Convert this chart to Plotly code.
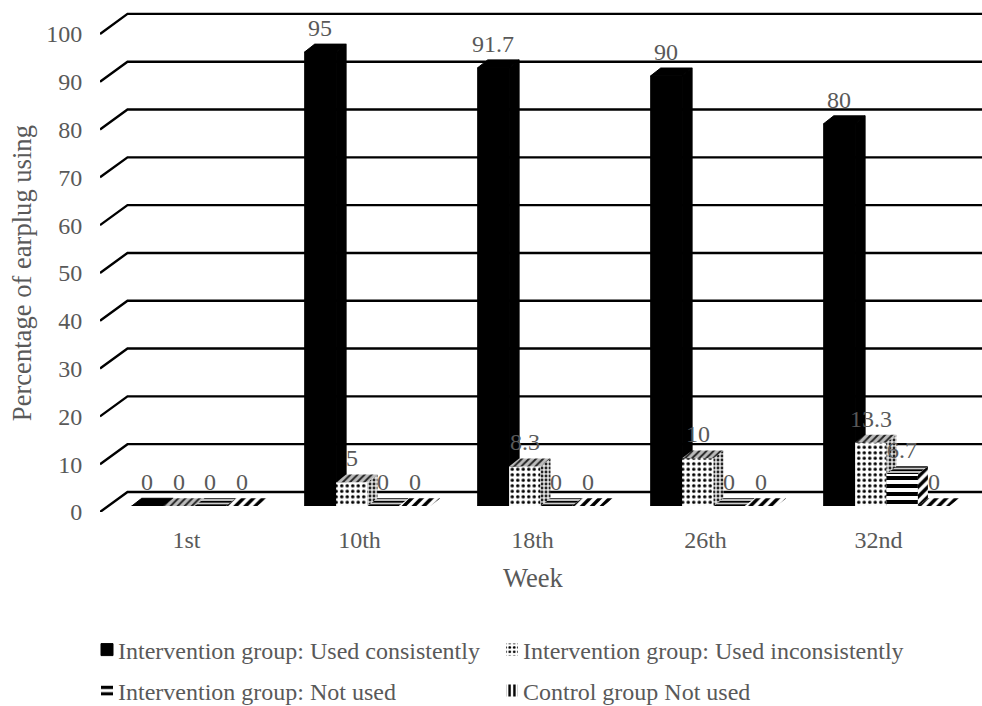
import plotly.graph_objects as go

weeks = ["1st", "10th", "18th", "26th", "32nd"]
consistent = [0, 95, 91.7, 90, 80]
inconsistent = [0, 5, 8.3, 10, 13.3]
not_used = [0, 0, 0, 0, 6.7]
control_not_used = [0, 0, 0, 0, 0]
series_names = ["Intervention group: Used consistently", "Intervention group: Used inconsistently",
                "Intervention group: Not used", "Control group Not used"]
y_ticks = list(range(0, 101, 10))

W, H = 982, 706
FRONT_L, FRONT_B = 100.0, 511.6
PX_X, PX_Y = 173.0, 4.776      # px per category, px per percent
TOP = 10.1
SHIFT_X, SHIFT_Y = 8.0, 5.9    # bar plane relative to the front plane
BAR_W = 31.4 / PX_X
DX, DY = 10.0 / PX_X, 7.8 / PX_Y     # bar depth
WALL_DX, WALL_DY = 27.5 / PX_X, 20.0 / PX_Y   # wall depth
FONT = "Liberation Serif"
FS = 24
FS_TITLE = 26.6
GREY = "#595959"


def pat(shape, size, solidity, fg="black", bg="white"):
    return dict(shape=shape, size=size, solidity=solidity, fgcolor=fg, bgcolor=bg, fgopacity=1, fillmode="replace")


series = [consistent, inconsistent, not_used, control_not_used]
solid = dict(shape="", fgcolor="black", bgcolor="black")
fronts = [solid, pat(".", 5.5, 0.3), pat("-", 8, 0.5), pat("|", 6, 0.5)]
sides = [solid, pat(".", 4, 0.4, "#222222", "#dddddd"), pat("/", 7, 0.5), pat("/", 7, 0.5)]
caps = [solid, pat("/", 5, 0.4, "#222222", "#bbbbbb"), pat("-", 3.5, 0.5, "black", "#cccccc"), pat("/", 7, 0.5)]

fig = go.Figure()

# gridlines on the floor/back wall, derived from the tick list
gx, gy = [], []
x_lo, x_hi = -0.5, -0.5 + (W - FRONT_L) / PX_X
y_hi = (FRONT_B - TOP) / PX_Y
for t in y_ticks:
    gx += [x_lo, x_lo + WALL_DX, x_hi, None]
    gy += [t, t + WALL_DY, t + WALL_DY, None]
fig.add_trace(go.Scatter(x=gx, y=gy, mode="lines", line=dict(color="black", width=2.4),
                         showlegend=False, hoverinfo="skip"))

xcat = list(range(len(weeks)))
annotations = []
legend_ids = ["legend", "legend2", "legend3", "legend4"]
for i, vals in enumerate(series):
    k = i + 2
    ax, ay = f"x{k}", f"y{k}"
    off = (-2 + i) * BAR_W
    edge = dict(width=1, color="black") if i == 0 else dict(width=0)
    fig.add_trace(go.Bar(x=xcat, y=vals, width=BAR_W, offset=off, name=series_names[i],
                         marker=dict(color="white" if i else "black", pattern=fronts[i], line=edge),
                         xaxis=ax, yaxis=ay, legend=legend_ids[i], hoverinfo="x+y"))
    sx, sy, cx, cy = [], [], [], []
    for c, v in zip(xcat, vals):
        l = c + off
        r = l + BAR_W
        if v > 0:
            sx += [r, r + DX, r + DX, r, r, None]
            sy += [0, DY, v + DY, v, 0, None]
        cx += [l, l + DX, r + DX, r, l, None]
        cy += [v, v + DY, v + DY, v, v, None]
        annotations.append(dict(x=c + off + BAR_W / 2, y=v, xref=ax, yref=ay, text=str(v), showarrow=False,
                                yshift=24, xanchor="center", yanchor="middle",
                                font=dict(family=FONT, size=FS, color=GREY)))
    mode = "lines" if i == 0 else "none"
    if sx:
        fig.add_trace(go.Scatter(x=sx, y=sy, mode=mode, fill="toself", fillcolor="white" if i else "black",
                                 line=dict(color="black", width=1), fillpattern=sides[i], showlegend=False,
                                 hoverinfo="skip", xaxis=ax, yaxis=ay))
    fig.add_trace(go.Scatter(x=cx, y=cy, mode=mode, fill="toself", fillcolor="white" if i else "black",
                             line=dict(color="black", width=1), fillpattern=caps[i], showlegend=False,
                             hoverinfo="skip", xaxis=ax, yaxis=ay))

plot_w = W - FRONT_L
plot_h = FRONT_B - TOP
annotations.append(dict(x=(533 - FRONT_L) / plot_w, y=(FRONT_B - 578) / plot_h, xref="paper", yref="paper", text="Week",
                        showarrow=False, xanchor="center", yanchor="middle",
                        font=dict(family=FONT, size=FS_TITLE, color=GREY)))
annotations.append(dict(x=(22 - FRONT_L) / plot_w, y=(FRONT_B - 273) / plot_h, xref="paper", yref="paper",
                        text="Percentage of earplug using", textangle=-90, showarrow=False,
                        xanchor="center", yanchor="middle", font=dict(family=FONT, size=FS_TITLE, color=GREY)))
layout = dict(
    width=W, height=H, autosize=False, paper_bgcolor="white", plot_bgcolor="rgba(0,0,0,0)",
    margin=dict(l=FRONT_L, r=0, t=TOP, b=H - FRONT_B, pad=0, autoexpand=False),
    font=dict(family=FONT, size=FS, color=GREY),
    barmode="overlay", annotations=annotations,
    xaxis=dict(range=[x_lo, x_hi], tickmode="array", tickvals=xcat, ticktext=weeks, showgrid=False, zeroline=False,
               showline=False, ticks="outside", ticklen=6, tickcolor="rgba(0,0,0,0)"),
    yaxis=dict(range=[0, y_hi], tickmode="array", tickvals=y_ticks, showgrid=False, zeroline=False, showline=False,
               ticks="outside", ticklen=12, tickcolor="rgba(0,0,0,0)"),
    showlegend=True,
)
dom_x = [SHIFT_X / plot_w, (SHIFT_X + 5 * PX_X) / plot_w]
dom_y = [SHIFT_Y / plot_h, 1.0]
for k in range(2, 6):
    layout[f"xaxis{k}"] = dict(domain=dom_x, range=[-0.5, 4.5], visible=False, anchor=f"y{k}", fixedrange=True)
    layout[f"yaxis{k}"] = dict(domain=dom_y, range=[0, (FRONT_B - SHIFT_Y - TOP) / PX_Y], visible=False,
                               anchor=f"x{k}", fixedrange=True)


def leg(x_px, y_px):
    return dict(x=x_px / W, y=1 - y_px / H, xref="container", yref="container", xanchor="left", yanchor="middle",
                bgcolor="rgba(0,0,0,0)", font=dict(family=FONT, size=FS, color=GREY))


layout["legend"] = leg(78, 650)
layout["legend2"] = leg(483, 650)
layout["legend3"] = leg(78, 691)
layout["legend4"] = leg(483, 691)
fig.update_layout(**layout)
fig.write_html("out.html", config=dict(displayModeBar=False),
               post_script="document.body.style.margin='0';"
                           "document.querySelectorAll('.legendpoints').forEach(function(g){"
                           "g.setAttribute('transform','translate(9,0)');});")
